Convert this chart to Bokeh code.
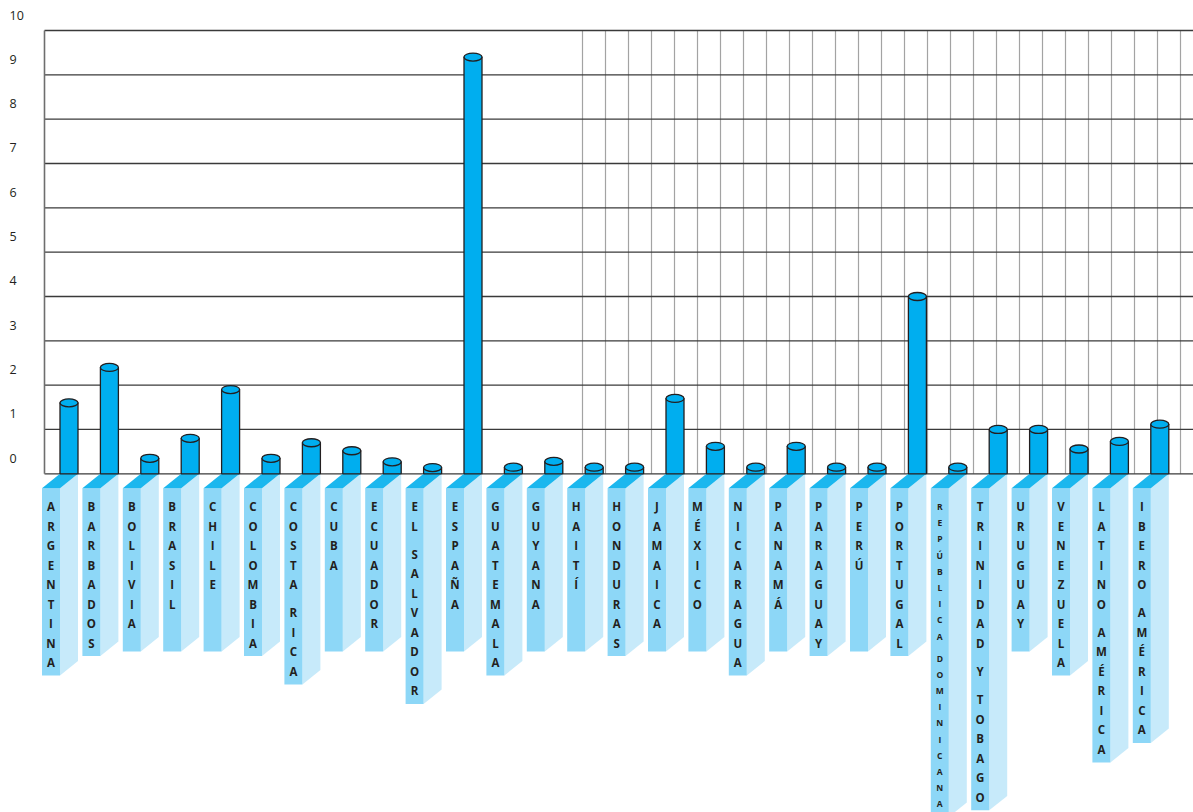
from bokeh.plotting import figure
from bokeh.models import Range1d, ColumnDataSource
from bokeh.core.properties import value
from bokeh.embed import file_html
from bokeh.resources import INLINE

# ---------------- data ----------------
countries = ["ARGENTINA", "BARBADOS", "BOLIVIA", "BRASIL", "CHILE", "COLOMBIA",
             "COSTA RICA", "CUBA", "ECUADOR", "EL SALVADOR", "ESPAÑA", "GUATEMALA",
             "GUYANA", "HAITÍ", "HONDURAS", "JAMAICA", "MÉXICO", "NICARAGUA",
             "PANAMÁ", "PARAGUAY", "PERÚ", "PORTUGAL", "REPÚBLICA DOMINICANA",
             "TRINIDAD Y TOBAGO", "URUGUAY", "VENEZUELA", "LATINO AMÉRICA",
             "IBERO AMÉRICA"]
values = [1.6, 2.4, 0.35, 0.8, 1.9, 0.35,
          0.7, 0.52, 0.27, 0.14, 9.4, 0.15,
          0.28, 0.15, 0.15, 1.7, 0.62, 0.15,
          0.62, 0.15, 0.15, 4.0, 0.15,
          1.0, 1.0, 0.56, 0.73,
          1.12]
y_ticks = list(range(0, 11))
small_labels = ["REPÚBLICA DOMINICANA"]

# ---------------- layout constants (pixels) ----------------
W, H = 1193, 812
X0_PX = 68.5      # centre of first bar
SLOT_PX = 40.4    # distance between bars
Y0_PX = 473.3     # zero line
UNIT_PX = 44.33   # pixels per unit
AXIS_PX = 44      # left axis line
VGRID_START, VGRID_END, VGRID_STEP = 582, 1181, 23


def dx(px):
    return px / SLOT_PX


def dy(px):
    return px / UNIT_PX


def xpix(px):
    return (px - X0_PX) / SLOT_PX


x_start = xpix(0)
x_end = xpix(W)

p = figure(width=W, height=H,
           x_range=Range1d(x_start, x_end),
           y_range=Range1d(-dy(H - Y0_PX), dy(Y0_PX)),
           x_axis_location=None, y_axis_location=None,
           toolbar_location=None, output_backend="svg",
           min_border=0, outline_line_color=None)
p.xgrid.visible = False
p.ygrid.visible = False
p.background_fill_color = "white"
p.border_fill_color = "white"

ymax = max(y_ticks)

# vertical decorative grid on the right half
vx = [xpix(v) for v in range(VGRID_START, VGRID_END, VGRID_STEP)]
p.segment(x0=vx, y0=[0] * len(vx), x1=vx, y1=[ymax] * len(vx),
          line_color="#a3a3a3", line_width=1.2)

# horizontal grid lines
p.segment(x0=[xpix(AXIS_PX)] * len(y_ticks), y0=y_ticks,
          x1=[x_end] * len(y_ticks), y1=y_ticks,
          line_color="#3a3a3a", line_width=1.3)

# left axis line
p.segment(x0=[xpix(AXIS_PX)], y0=[0], x1=[xpix(AXIS_PX)], y1=[ymax],
          line_color="#6e6e6e", line_width=1.6)

# tick labels (sit above their line)
p.text(x=[xpix(9)] * len(y_ticks), y=[t + dy(15.5) for t in y_ticks],
       text=[str(t) for t in y_ticks], text_align="left", text_baseline="middle",
       text_font=value("Open Sans"), text_font_size="12.5px", text_color="#231f20")

# ---------------- label boxes ----------------
TOP_D = 14.4
front_xs, front_ys, top_xs, top_ys, side_xs, side_ys = [], [], [], [], [], []
big_lx, big_ly, big_lt = [], [], []
sm_lx, sm_ly, sm_lt = [], [], []

for i, name in enumerate(countries):
    small = name in small_labels
    step = 16.2 if small else 19.5
    gap = 22.0 if small else 28.4
    y = 32.7
    letters, pos = [], []
    for wi, word in enumerate(name.split(" ")):
        if wi > 0:
            y += gap - step
        for ch in word:
            letters.append(ch)
            pos.append(y)
            y += step
    bot = max(651 - Y0_PX, pos[-1] + 13)

    c = i
    front_xs.append([c + dx(-27), c + dx(-9), c + dx(-9), c + dx(-27)])
    front_ys.append([-dy(TOP_D), -dy(TOP_D), -dy(bot), -dy(bot)])
    top_xs.append([c + dx(-27), c + dx(-9), c + dx(9), c + dx(-9)])
    top_ys.append([-dy(TOP_D), -dy(TOP_D), 0, 0])
    side_xs.append([c + dx(-9), c + dx(9), c + dx(9), c + dx(-9)])
    side_ys.append([-dy(TOP_D), 0, -dy(bot - TOP_D), -dy(bot)])

    for ch, py in zip(letters, pos):
        if small:
            sm_lx.append(c + dx(-18)); sm_ly.append(-dy(py)); sm_lt.append(ch)
        else:
            big_lx.append(c + dx(-18)); big_ly.append(-dy(py)); big_lt.append(ch)

p.patches(xs=side_xs, ys=side_ys, fill_color="#c7eafa", line_color=None)
p.patches(xs=front_xs, ys=front_ys, fill_color="#8dd7f7", line_color=None)
p.patches(xs=top_xs, ys=top_ys, fill_color="#1bb7ee", line_color=None)

p.text(x=big_lx, y=big_ly, text=big_lt, text_align="center", text_baseline="middle",
       text_font=value("Open Sans"), text_font_style="bold", text_font_size="11.5px",
       text_color="#231f20")
p.text(x=sm_lx, y=sm_ly, text=sm_lt, text_align="center", text_baseline="middle",
       text_font=value("Open Sans"), text_font_style="bold", text_font_size="8.5px",
       text_color="#231f20")

# ---------------- cylinder bars ----------------
src = ColumnDataSource(dict(x=list(range(len(countries))), top=values, name=countries))
p.vbar(x="x", top="top", bottom=0, width=dx(18), source=src,
       fill_color="#00aeef", line_color="#231f20", line_width=1.3)
p.ellipse(x="x", y="top", width=18, height=8, width_units="screen",
          height_units="screen", source=src,
          fill_color="#00aeef", line_color="#231f20", line_width=1.3)

open("out.html", "w").write(file_html(p, INLINE))
